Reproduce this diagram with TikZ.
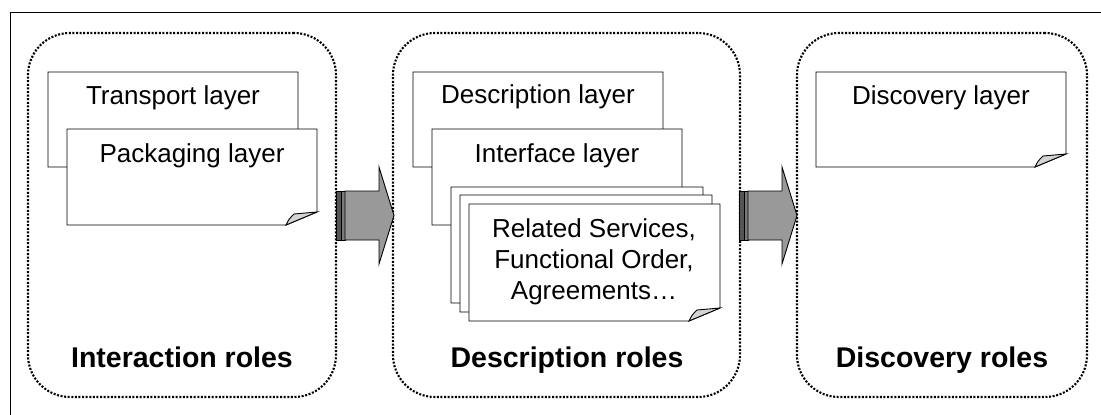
\documentclass[tikz,border=0pt]{standalone}
\usepackage{fontspec}
\setmainfont{Liberation Sans}
\definecolor{foldgray}{HTML}{D4D4D4}
\definecolor{arrgray}{HTML}{999999}
\definecolor{stripedark}{HTML}{555555}
\definecolor{stripemid}{HTML}{7A7A7A}
\newcommand{\paperpath}[4]{% x1 y1 x2 y2
  \draw[paper] (#1,#2) -- (#3,#2) -- (#3,#4-13) -- (#3-31,#4) -- (#1,#4) -- cycle;
  \draw[fold] (#3-31,#4) .. controls (#3-28,#4-6) .. (#3-23,#4-11) -- (#3,#4-13) -- cycle;
}
\newcommand{\blockarrow}[2]{% base x, name
  \fill[stripedark] (#1,191) rectangle (#1+5,240);
  \fill[stripemid] (#1+5,191) rectangle (#1+9,240);
  \draw[line width=0.8pt] (#1,191) rectangle (#1+9,240);
  \draw[line width=0.8pt] (#1+5,191) -- (#1+5,240);
  \draw[arrbody] (#1+9,191) -- (#1+43,191) -- (#1+43,167) -- (#1+58,215.5) -- (#1+43,264) -- (#1+43,240) -- (#1+9,240) -- cycle;
}
\begin{document}
\begin{tikzpicture}[x=1pt,y=-1pt,
  rolebox/.style={draw, line width=2.1pt, dash pattern=on 2pt off 1.6pt, rounded corners=42pt, inner sep=0pt},
  paper/.style={draw, line width=0.9pt, fill=white, line join=miter},
  fold/.style={draw, line width=0.9pt, fill=foldgray},
  arrbody/.style={draw, line width=0.9pt, fill=arrgray},
  layertext/.style={anchor=base, font=\fontsize{26}{31}\selectfont, inner sep=0pt},
  roletext/.style={anchor=base, font=\fontsize{28.5}{34}\selectfont\bfseries, inner sep=0pt}]
\useasboundingbox (0,0) rectangle (1101,415);
\fill[white] (0,0) rectangle (1101,415);
\draw[line width=1pt] (10,420) -- (10,12) -- (1106,12);
% role boxes
\node[rolebox, minimum width=308pt, minimum height=364pt] (r1) at (182,215) {};
\node[rolebox, minimum width=347pt, minimum height=364pt] (r2) at (566.5,215) {};
\node[rolebox, minimum width=290pt, minimum height=364pt] (r3) at (942,215) {};
% arrows
\blockarrow{336}{a1}
\blockarrow{739}{a2}
% papers box 1
\paperpath{48}{72}{298}{167}
\node[layertext] (t1) at (173,104) {Transport layer};
\paperpath{67}{129}{317}{225}
\node[layertext] (t2) at (192,162) {Packaging layer};
% papers box 2
\paperpath{413}{72}{663}{167}
\node[layertext] (t3) at (538,103) {Description layer};
\paperpath{432}{129}{682}{225}
\node[layertext] (t4) at (557,162) {Interface layer};
\paperpath{451}{187}{703}{303}
\paperpath{460}{195}{712}{312}
\paperpath{469}{204}{720}{321}
\node[layertext, align=center] (t5) at (594,299) {Related Services,\\Functional Order,\\Agreements…};
% paper box 3
\paperpath{816}{72}{1066}{167}
\node[layertext] (t6) at (941,104) {Discovery layer};
% role labels
\node[roletext] (l1) at (182,367) {Interaction roles};
\node[roletext] (l2) at (567,367) {Description roles};
\node[roletext] (l3) at (942,367) {Discovery roles};
\end{tikzpicture}
\end{document}
